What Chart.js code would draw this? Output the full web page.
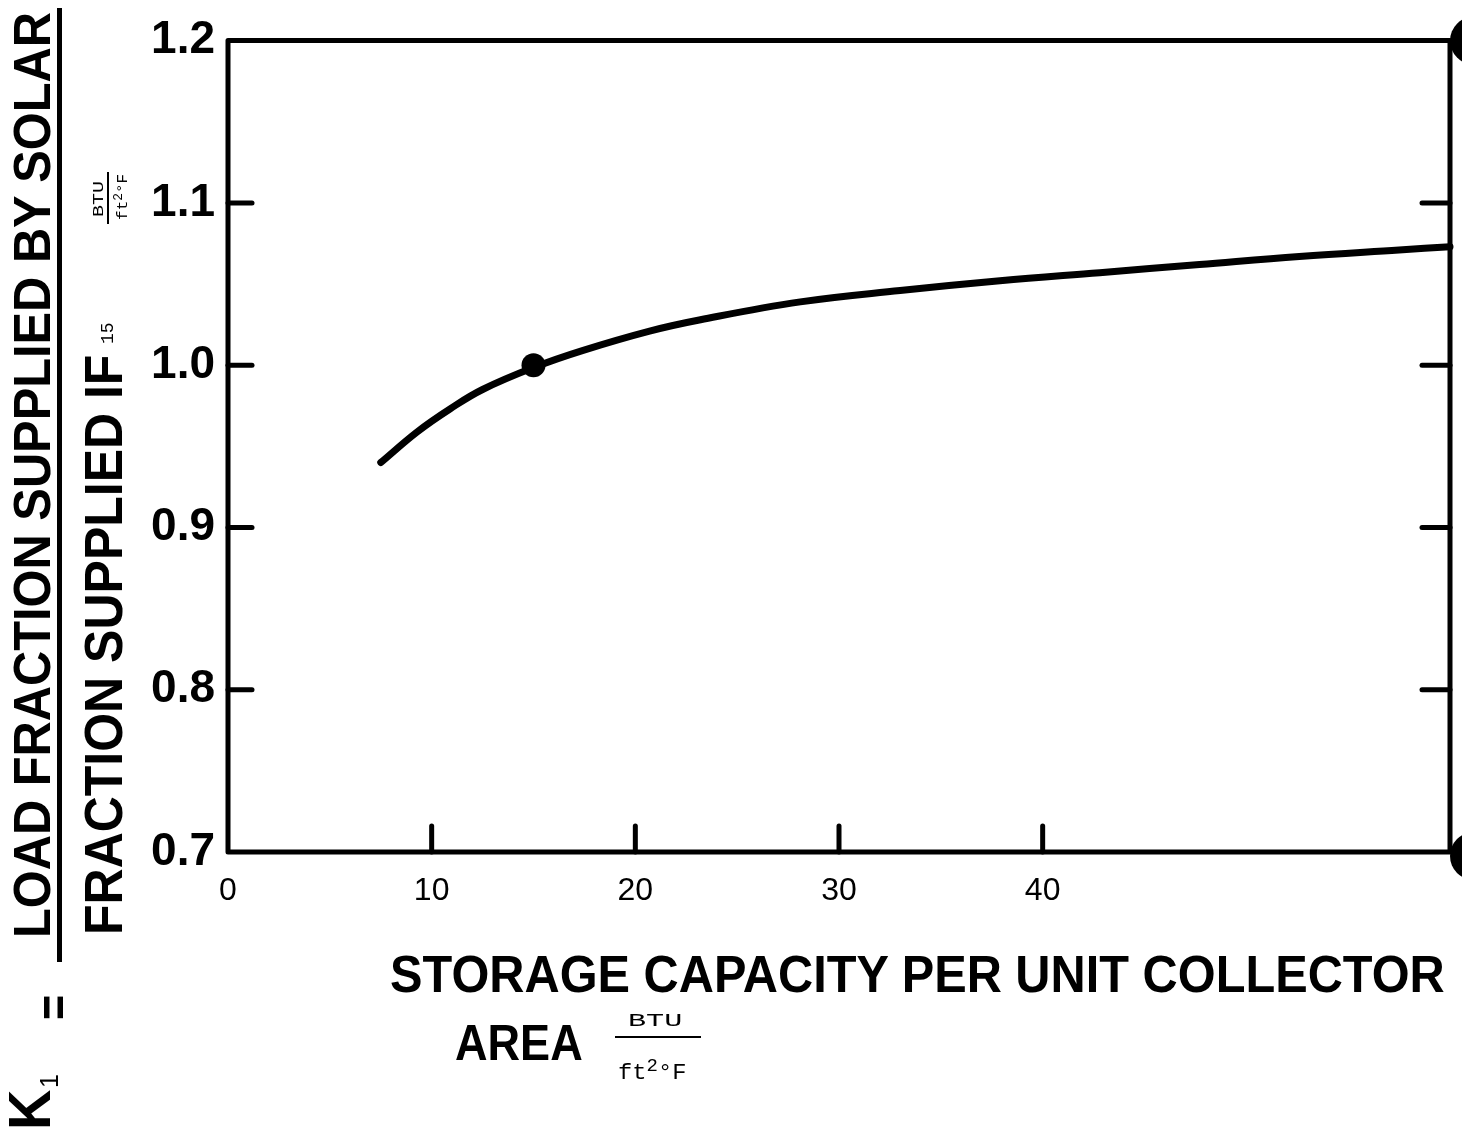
<!DOCTYPE html>
<html>
<head>
<meta charset="UTF-8">
<title>Storage capacity vs. load fraction ratio</title>
<style>
	body { margin: 0; background: #fff; }
	.page { position: relative; width: 1462px; height: 1137px; overflow: hidden; }
	.page canvas { position: absolute; left: 0; top: 0; }
	.lbl { position: absolute; white-space: nowrap; line-height: 1; color: #000;
		font-family: "Liberation Sans", Arial, sans-serif; font-weight: bold; transform-origin: 0 0; }
	.tw { position: absolute; white-space: nowrap; line-height: 1; color: #000;
		font-family: "Liberation Mono", "DejaVu Sans Mono", monospace; transform-origin: 0 0; }
	.tw sup { font-size: 80%; vertical-align: 0.45em; }
	.bar { position: absolute; background: #000; }
	#ytitle { position: absolute; left: 0; top: 1137px; width: 1137px; height: 150px;
		transform-origin: 0 0; transform: rotate(-90deg); }
</style>

<script src="https://cdn.jsdelivr.net/npm/chart.js@4.4.0/dist/chart.umd.min.js"></script>
</head>

<body>
<div class="page">
	<canvas id="myChart" width="1462" height="1137"></canvas>

	<!-- y title, written sideways: K1 = LOAD FRACTION ... / FRACTION SUPPLIED IF 15 -->
	<div id="ytitle">
		<span class="lbl fit" data-w="40" style="left:7px; top:0px; font-size:60px;">K</span>
		<span class="lbl" style="left:49px; top:37px; font-size:25px; font-weight:normal;">1</span>
		<span class="lbl fit" data-w="25" style="left:117px; top:29px; font-size:50px;">=</span>
		<div class="bar" style="left:175px; top:57px; width:954px; height:5px;"></div>
		<span class="lbl fit" data-w="926" style="left:199px; top:6px; font-size:52px;">LOAD FRACTION SUPPLIED BY SOLAR</span>
		<span class="lbl fit" data-w="580" style="left:202px; top:77px; font-size:53px;">FRACTION SUPPLIED IF</span>
		<span class="tw" style="left:793px; top:99px; font-size:18px;">15</span>
		<span class="tw fit" data-w="36" style="left:920px; top:92px; font-size:15px;">BTU</span>
		<div class="bar" style="left:913px; top:107px; width:52px; height:2px;"></div>
		<span class="tw fit" data-w="46" style="left:917px; top:113px; font-size:15px;">ft<sup>2</sup>°F</span>
	</div>

	<!-- x title -->
	<span class="lbl fit" data-w="1055" style="left:390px; top:948px; font-size:52px;">STORAGE CAPACITY PER UNIT COLLECTOR</span>
	<span class="lbl fit" data-w="128" style="left:455px; top:1018px; font-size:50px;">AREA</span>
	<span class="tw fit" data-w="54" style="left:628px; top:1012px; font-size:19px;">BTU</span>
	<div class="bar" style="left:615px; top:1036px; width:86px; height:2px;"></div>
	<span class="tw fit" data-w="68" style="left:618px; top:1058px; font-size:22px;">ft<sup>2</sup>°F</span>
</div>

<script type="text/javascript">
	// curve: storage capacity (BTU/ft2 F) vs K1
	var storageX = [7.5, 9.3, 10.9, 12.5, 15.1, 17.4, 20.7, 23.2, 28.1, 33.0, 37.9, 42.8, 47.7, 52.6, 57.5, 60.0];
	var ratioK = [0.940, 0.959, 0.973, 0.985, 0.999, 1.009, 1.021, 1.028, 1.039, 1.046, 1.052, 1.057, 1.062, 1.067, 1.071, 1.073];

	// reference point (K1 = 1 at 15 BTU/ft2 F)
	var refX = [15];
	var refK = [1.0];

	// tick labels / tick marks
	var xTickLabels = [0, 10, 20, 30, 40];
	var xTickMarks = [10, 20, 30, 40];
	var yTickLabels = ['0.7', '0.8', '0.9', '1.0', '1.1', '1.2'];

	// page titles: squeeze each text to the width it had on the scan
	document.querySelectorAll('.fit').forEach(function(el) {
		var w = el.offsetWidth;
		el.style.transform = 'scaleX(' + (parseFloat(el.dataset.w) / w) + ')';
	});

	function seg(c, x1, y1, x2, y2) {
		c.beginPath();
		c.moveTo(x1, y1);
		c.lineTo(x2, y2);
		c.stroke();
	}

	// box frame, inward ticks, and the two black marks on the right edge
	var framePlugin = {
		id: 'frame',
		beforeDatasetsDraw: function(chart) {
			var a = chart.chartArea, c = chart.ctx;
			var xs = chart.scales.x, ys = chart.scales.y;
			c.save();
			c.strokeStyle = '#000';
			c.lineWidth = 5;
			c.lineCap = 'round';
			c.lineJoin = 'round';
			c.strokeRect(a.left, a.top, a.right - a.left, a.bottom - a.top);
			ys.ticks.forEach(function(t) {
				if (t.value > ys.min + 1e-6 && t.value < ys.max - 1e-6) {
					var py = ys.getPixelForValue(t.value);
					seg(c, a.left, py, a.left + 24, py);
					seg(c, a.right, py, a.right - 28, py);
				}
			});
			xTickMarks.forEach(function(v) {
				var px = xs.getPixelForValue(v);
				seg(c, px, a.bottom, px, a.bottom - 26);
			});
			c.fillStyle = '#000';
			c.beginPath(); c.arc(a.right + 24, a.top, 24, 0, 2 * Math.PI); c.fill();
			c.beginPath(); c.arc(a.right + 24, a.bottom + 4, 24, 0, 2 * Math.PI); c.fill();
			c.restore();
		}
	};

	var ctx = document.getElementById('myChart').getContext('2d');
	var myChart = new Chart(ctx, {
		type: 'scatter',
		data: {
			datasets: [{
				data: storageX.map(function(x, i) { return { x: x, y: ratioK[i] }; }),
				showLine: true,
				borderColor: '#000',
				borderWidth: 7,
				borderCapStyle: 'round',
				borderJoinStyle: 'round',
				tension: 0.4,
				pointRadius: 0,
				clip: false,
				order: 2
			}, {
				data: refX.map(function(x, i) { return { x: x, y: refK[i] }; }),
				showLine: false,
				pointRadius: 12,
				pointBackgroundColor: '#000',
				pointBorderWidth: 0,
				clip: false,
				order: 1
			}]
		},
		options: {
			responsive: false,
			animation: false,
			devicePixelRatio: 1,
			layout: { padding: { top: 37, right: 11, left: 0, bottom: 0 } },
			plugins: { legend: { display: false }, tooltip: { enabled: false } },
			scales: {
				x: {
					type: 'linear', min: 0, max: 60,
					afterFit: function(s) { s.height = 285; s.paddingLeft = 0; s.paddingRight = 0; },
					grid: { display: false, drawTicks: false },
					border: { display: false },
					ticks: {
						stepSize: 10, padding: 20, autoSkip: false, maxRotation: 0, color: '#000',
						font: { family: '"Liberation Sans", Arial, sans-serif', size: 32 },
						callback: function(v) { return xTickLabels.indexOf(v) >= 0 ? String(v) : ''; }
					}
				},
				y: {
					type: 'linear', min: 0.7, max: 1.2,
					afterFit: function(s) { s.width = 228; },
					grid: { display: false, drawTicks: false },
					border: { display: false },
					ticks: {
						stepSize: 0.1, padding: 13, color: '#000',
						font: { family: '"Liberation Sans", Arial, sans-serif', size: 46, weight: 'bold' },
						callback: function(v) { return yTickLabels[Math.round((v - 0.7) * 10)]; }
					}
				}
			}
		},
		plugins: [framePlugin]
	});
</script>
</body>
</html>
